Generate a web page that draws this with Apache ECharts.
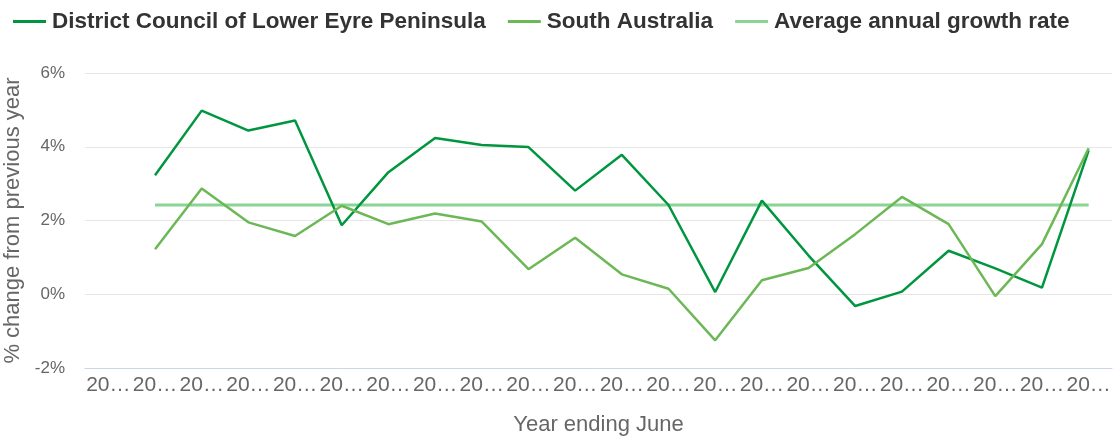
<!DOCTYPE html>
<html>
<head>
<meta charset="utf-8">
<script src="https://cdn.jsdelivr.net/npm/echarts@6/dist/echarts.min.js"></script>
<style>html,body{margin:0;padding:0;background:#fff}#c{width:1119px;height:441px}</style>
</head>
<body>
<div id="c"></div>
<script>
var years = ["2001","2002","2003","2004","2005","2006","2007","2008","2009","2010","2011","2012","2013","2014","2015","2016","2017","2018","2019","2020","2021","2022"];
var district = [null,3.23,4.98,4.44,4.71,1.87,3.31,4.24,4.05,3.99,2.81,3.78,2.42,0.06,2.54,1.05,-0.32,0.07,1.18,0.70,0.18,3.90];
var southAustralia = [null,1.22,2.87,1.95,1.58,2.40,1.90,2.19,1.97,0.68,1.53,0.54,0.15,-1.25,0.38,0.71,1.63,2.64,1.90,-0.05,1.36,3.96];
var avgRate = [null,2.42,2.42,2.42,2.42,2.42,2.42,2.42,2.42,2.42,2.42,2.42,2.42,2.42,2.42,2.42,2.42,2.42,2.42,2.42,2.42,2.42];
var yTicks = [-2,0,2,4,6];

var chart = echarts.init(document.getElementById('c'));
var font = 'Liberation Sans, Arial, sans-serif';
chart.setOption({
  animation: false,
  textStyle: {fontFamily: font},
  legend: {
    left: 8, top: 5,
    itemWidth: 33, itemHeight: 3, itemGap: 22,
    icon: 'rect',
    textStyle: {fontSize: 22.5, fontWeight: 'bold', color: '#333', fontFamily: font, padding: [0, 0, 0, 1]},
    data: ['District Council of Lower Eyre Peninsula','South Australia','Average annual growth rate']
  },
  grid: {left: 85, right: 7, top: 73, bottom: 73, outerBoundsMode: 'none', containLabel: false},
  xAxis: {
    type: 'category', data: years, boundaryGap: true,
    name: 'Year ending June', nameLocation: 'middle', nameGap: 46,
    nameTextStyle: {fontSize: 22, color: '#666', fontFamily: font},
    axisLine: {onZero: false, lineStyle: {color: '#ccd6eb'}},
    axisTick: {show: false},
    axisLabel: {interval: 0, fontSize: 21, color: '#666', width: 45.5, overflow: 'truncate', ellipsis: '…', margin: 7}
  },
  yAxis: {
    type: 'value', min: -2, max: 6, interval: 2,
    name: '% change from previous year', nameLocation: 'middle', nameGap: 58,
    nameTextStyle: {fontSize: 22, color: '#666', fontFamily: font},
    axisLine: {show: false}, axisTick: {show: false},
    splitLine: {lineStyle: {color: '#e6e6e6'}},
    axisLabel: {fontSize: 17, color: '#666', margin: 20, formatter: function(v){ return yTicks.indexOf(v) >= 0 ? v + '%' : ''; }}
  },
  series: [
    {name: 'District Council of Lower Eyre Peninsula', type: 'line', data: district, symbol: 'none', color: '#00963f', lineStyle: {width: 2.5, color: '#00963f'}},
    {name: 'South Australia', type: 'line', data: southAustralia, symbol: 'none', color: '#6cb856', lineStyle: {width: 2.5, color: '#6cb856'}},
    {name: 'Average annual growth rate', type: 'line', data: avgRate, symbol: 'none', color: '#8ad496', lineStyle: {width: 3, color: '#8ad496'}, z: 1}
  ]
});
</script>
</body>
</html>
